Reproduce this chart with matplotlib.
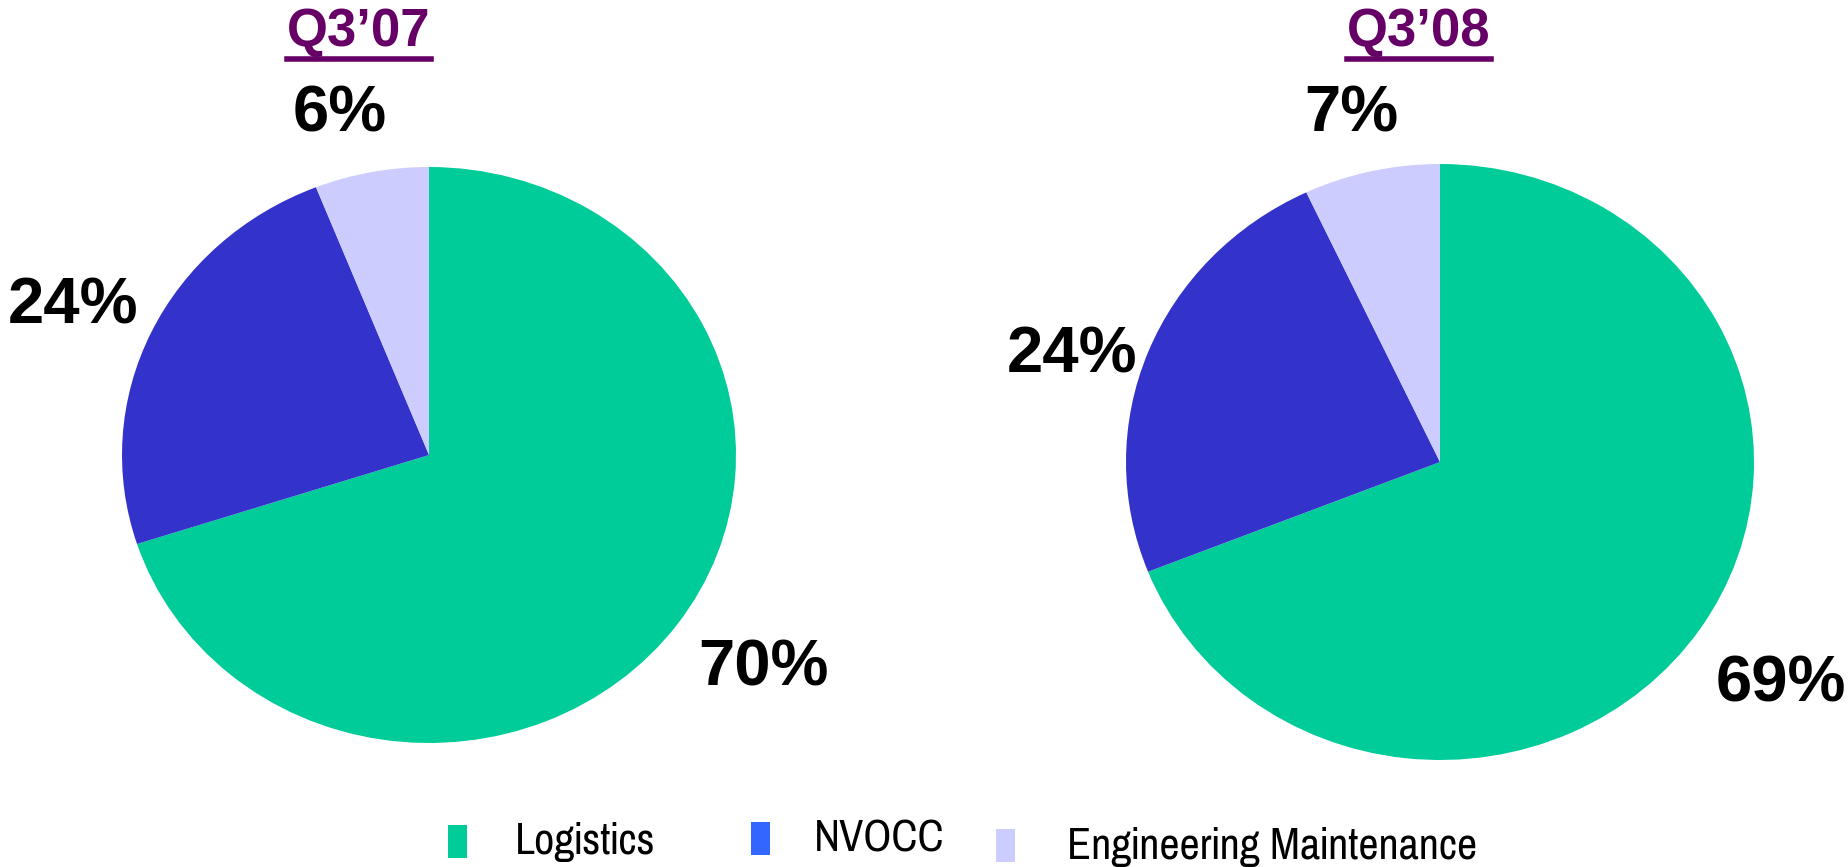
import matplotlib
matplotlib.use('Agg')
import numpy as np
import matplotlib.pyplot as plt
from matplotlib.lines import Line2D
from matplotlib.patches import Rectangle

# segment shares per quarter
segments = ['Logistics', 'NVOCC', 'Engineering Maintenance']
q3_07 = [70, 24, 6]
q3_08 = [69, 24, 7]
titles = ["Q3\u201907", "Q3\u201908"]

pie_colors = ['#00CC99', '#3333CC', '#CCCCFF']
legend_colors = ['#00CC99', '#3366FF', '#CCCCFF']
title_color = '#660066'

SANS = ['Liberation Sans', 'DejaVu Sans']
NARROW = ['Pragati Narrow', 'Roboto Condensed', 'Archivo Narrow',
          'Liberation Sans', 'DejaVu Sans']

W, H = 1849, 867
fig = plt.figure(figsize=(W / 100, H / 100), dpi=100)


def px_axes(x0, y0, x1, y1):
    # axes from pixel box (top-left origin)
    return fig.add_axes([x0 / W, 1 - y1 / H, (x1 - x0) / W, (y1 - y0) / H])


boxes = [(122, 167, 736, 743), (1126, 164, 1754, 760)]
title_x = [359, 1419]
# (radius, angle shift in degrees) for each percentage label
label_place = [[(1.317, 1.7), (1.269, 1.3), (1.219, 3.0)],
               [(1.317, -0.3), (1.225, 4.7), (1.20, 1.0)]]

for data, box, title, tx, places in zip([q3_07, q3_08], boxes, titles,
                                        title_x, label_place):
    ax = px_axes(*box)
    wedges, texts, autotexts = ax.pie(
        data, colors=pie_colors, startangle=90, counterclock=False,
        autopct='%.0f%%', pctdistance=1.27,
        textprops=dict(fontsize=47, fontweight='bold', color='black',
                       family=SANS))
    ax.set_aspect('auto')
    ax.set_xlim(-1, 1)
    ax.set_ylim(-1, 1)
    ax.axis('off')

    # push each label along its wedge's middle direction
    for w, at, (r, shift) in zip(wedges, autotexts, places):
        ang = np.deg2rad((w.theta1 + w.theta2) / 2 + shift)
        at.set_position((r * np.cos(ang), r * np.sin(ang)))

    fig.text(tx / W, 1 - 32 / H, title, ha='center', va='center',
             fontsize=38, fontweight='bold', color=title_color, family=SANS)

# underline the titles using their rendered extents
fig.canvas.draw()
renderer = fig.canvas.get_renderer()
for t in list(fig.texts):
    bb = t.get_window_extent(renderer)
    y = 1 - 58.5 / H
    fig.add_artist(Line2D([bb.x0 / W, bb.x1 / W], [y, y], color=title_color,
                          linewidth=4, transform=fig.transFigure))

# legend row
patch_x = [448, 751, 996]
patch_y = [825, 822, 829]
text_x = [515, 814, 1067]
text_y = [842, 840, 847]
for name, col, px, py, lx, ly in zip(segments, legend_colors, patch_x, patch_y,
                                     text_x, text_y):
    fig.add_artist(Rectangle((px / W, 1 - (py + 33) / H), 19 / W, 33 / H,
                             facecolor=col, edgecolor='none',
                             transform=fig.transFigure))
    fig.text(lx / W, 1 - ly / H, name, ha='left', va='center', fontsize=34.5,
             family=NARROW)

fig.savefig('out.png', dpi=100, facecolor='white')
